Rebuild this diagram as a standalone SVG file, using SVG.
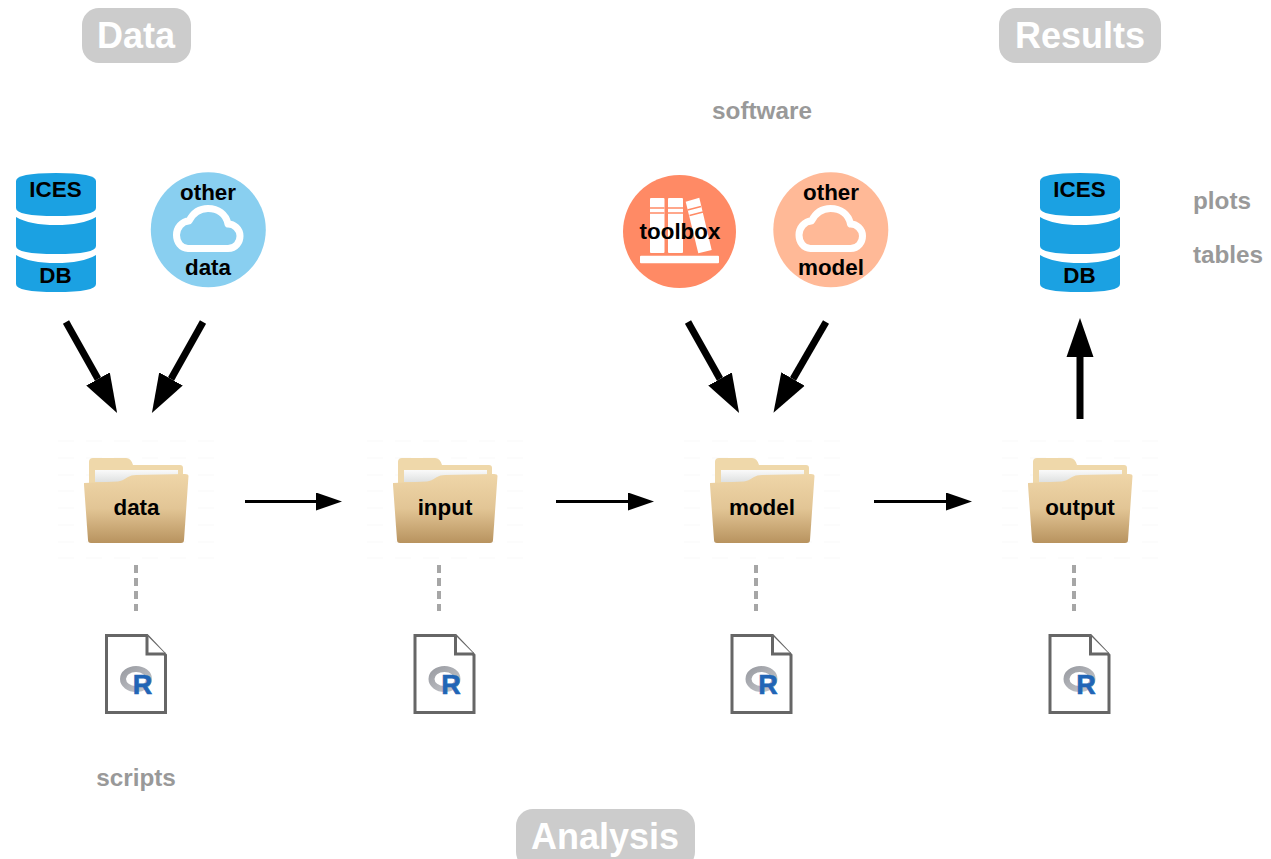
<svg xmlns="http://www.w3.org/2000/svg" xmlns:xlink="http://www.w3.org/1999/xlink" width="1271" height="859" viewBox="0 0 1271 859">
<style>
text{font-family:"Liberation Sans",Arial,sans-serif;font-weight:700;text-anchor:middle}
.badge{fill:#ccc}
.badgeT{font-size:36px;fill:#fff}
.side{font-size:24.3px;fill:#999}
.lab{font-size:22.4px;fill:#000}
.cloud{fill:none;stroke:#fff;stroke-width:7;stroke-linejoin:round}
.thick{stroke:#000;stroke-width:7;fill:none;marker-end:url(#bigHead)}
.thin{stroke:#000;stroke-width:3;fill:none;marker-end:url(#smallHead)}
.dash{stroke:#a6a6a6;stroke-width:4;stroke-dasharray:8 5;fill:none}
.doc{fill:#fff;stroke:#666;stroke-width:3}
.rlogo{font-size:27px;fill:#2165b6;stroke:#2165b6;stroke-width:.6}
</style>
<defs>
<marker id="bigHead" markerUnits="userSpaceOnUse" markerWidth="39" markerHeight="28" refX="0" refY="14" orient="auto"><path d="M0 .5L39 14L0 27.500Z" fill="#000"/></marker>
<marker id="smallHead" markerUnits="userSpaceOnUse" markerWidth="26" markerHeight="18" refX="0" refY="9" orient="auto"><path d="M0 0L26 9L0 18Z" fill="#000"/></marker>
<linearGradient id="front" x1="0" y1="0" x2="0" y2="1"><stop offset="0" stop-color="#efd6a8"/><stop offset=".5" stop-color="#e2c595"/><stop offset="1" stop-color="#b8935f"/></linearGradient>
<linearGradient id="paper" x1="0" y1="0" x2="0" y2="1"><stop offset="0" stop-color="#fafafa"/><stop offset="1" stop-color="#dfe1e1"/></linearGradient>
<linearGradient id="ring" x1="0" y1="0" x2="1" y2="1"><stop offset="0" stop-color="#9b9da3"/><stop offset="1" stop-color="#c4c6cb"/></linearGradient>
<g id="folder">
<path d="M58 441H215M58 458H215M58 475H215M58 491H215M58 508H215M58 525H215M58 542H215M58 558H215" stroke="#fcfcfc" stroke-width="2" stroke-dasharray="16 12" fill="none"/>
<path d="M89 462Q89 458 93 458H126Q131 458 133 465H180Q183 465 183 468V490H89Z" fill="#efd8aa"/>
<path d="M95 470H178V482H95Z" fill="url(#paper)"/>
<path d="M84 483L118 481.500Q122 481 128 477Q131 475 136 475L185 474Q188.500 474 188.500 476L184 540Q184 543 181 543H91Q88 543 88 540L84 485Q84 483 84 483Z" fill="url(#front)"/>
</g>
<g id="db">
<path d="M16 181Q16 173 56 173Q96 173 96 181V208Q96 216 56 216Q16 216 16 208Z"/>
<path d="M16 217Q30 225 56 225Q82 225 96 217V246Q96 254 56 254Q16 254 16 246Z"/>
<path d="M16 255Q30 263 56 263Q82 263 96 255V284Q96 292 56 292Q16 292 16 284Z"/>
</g>
<path id="cloud" class="cloud" d="M188 248.500H228C236 248.500 240 242 240 236C240 229 234 224 228 224C226 214 218 208.500 208 208.500C198 208.500 192 215 189 221C182 221 176.500 228 176.500 235C176.500 242 181 248.500 188 248.500Z"/>
<g id="doc">
<path class="doc" d="M106.500 635.500H147L165.500 655V712.500H106.500Z"/>
<path class="doc" d="M147 635.500V654H165.500"/>
<ellipse cx="136" cy="679" rx="13" ry="10" fill="none" stroke="url(#ring)" stroke-width="6"/>
<text class="rlogo" x="142.500" y="694">R</text>
</g>
</defs>

<g id="connectors">
<path class="thick" d="M66 322L98 379"/>
<path class="thick" d="M203 322L171 379"/>
<path class="thick" d="M688 322L720 379"/>
<path class="thick" d="M826 322L793 379"/>
<path class="thick" d="M1080 419V357"/>
<path class="thin" d="M245 501.500H316"/>
<path class="thin" d="M556 501.500H628"/>
<path class="thin" d="M874 501.500H946"/>
<path class="dash" d="M136 565V611"/>
<path class="dash" d="M439 565V611"/>
<path class="dash" d="M756 565V611"/>
<path class="dash" d="M1074 565V611"/>
</g>

<g id="badge-data"><rect class="badge" x="82" y="8" width="109" height="55" rx="17"/><text class="badgeT" x="136" y="48">Data</text></g>
<g id="badge-results"><rect class="badge" x="999" y="8" width="162" height="55" rx="17"/><text class="badgeT" x="1080" y="48">Results</text></g>
<g id="badge-analysis"><rect class="badge" x="516" y="809" width="179" height="60" rx="17"/><text class="badgeT" x="605" y="849">Analysis</text></g>

<g id="label-software"><text class="side" x="762" y="119">software</text></g>
<g id="label-scripts"><text class="side" x="136" y="786">scripts</text></g>
<g id="label-plots"><text class="side" x="1222" y="209">plots</text></g>
<g id="label-tables"><text class="side" x="1228" y="263">tables</text></g>

<g id="ices-db"><use href="#db" fill="#1ba1e2"/><text class="lab" x="55.500" y="197">ICES</text><text class="lab" x="55.500" y="283">DB</text></g>
<g id="other-data"><circle cx="208.300" cy="229.800" r="57.500" fill="#89cff0"/><use href="#cloud"/><text class="lab" x="208" y="200">other</text><text class="lab" x="208" y="275">data</text></g>
<g id="toolbox"><circle cx="679.500" cy="231.500" r="56.500" fill="#ff8a65"/>
<g fill="#fff"><rect x="650" y="198" width="14.500" height="55" rx="1"/><rect x="668" y="198" width="15" height="55" rx="1"/><path d="M685.700 201.700L699.300 197.700L711.700 250L698.300 253.300Z"/><rect x="640" y="255.700" width="79" height="7.600" rx="1"/></g>
<path d="M650 208H664.500M650 213H664.500M668 208H683M668 213H683M687.500 210L701 206.500M689.500 215.500L703 212" stroke="#ff8a65" stroke-width="1.500" fill="none"/>
<text class="lab" x="680" y="239">toolbox</text></g>
<g id="other-model"><circle cx="830.800" cy="229.800" r="57.500" fill="#ffb997"/><use href="#cloud" x="622.500"/><text class="lab" x="831" y="200">other</text><text class="lab" x="831" y="275">model</text></g>
<g id="results-db"><use href="#db" x="1024" fill="#1ba1e2"/><text class="lab" x="1079.500" y="197">ICES</text><text class="lab" x="1079.500" y="283">DB</text></g>

<g id="folder-data"><use href="#folder"/><text class="lab" x="136.500" y="515">data</text></g>
<g id="folder-input"><use href="#folder" x="309"/><text class="lab" x="445" y="515">input</text></g>
<g id="folder-model"><use href="#folder" x="626"/><text class="lab" x="762" y="515">model</text></g>
<g id="folder-output"><use href="#folder" x="944"/><text class="lab" x="1080" y="515">output</text></g>

<g id="script-data"><use href="#doc"/></g>
<g id="script-input"><use href="#doc" x="308.500"/></g>
<g id="script-model"><use href="#doc" x="625.500"/></g>
<g id="script-output"><use href="#doc" x="943.500"/></g>
</svg>
